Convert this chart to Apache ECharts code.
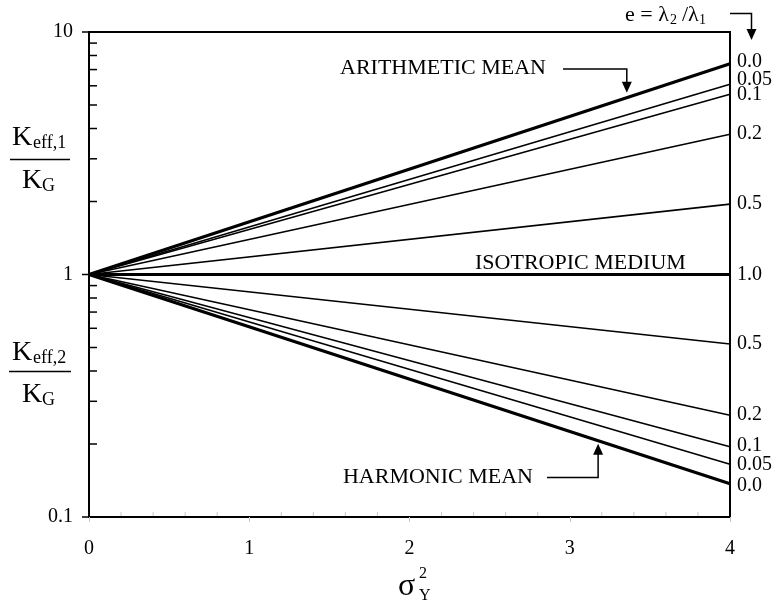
<!DOCTYPE html>
<html>
<head>
<meta charset="utf-8">
<script src="https://cdn.jsdelivr.net/npm/echarts@6/dist/echarts.min.js"></script>
<style>
  html, body { margin: 0; padding: 0; background: #fff; }
  #chart { width: 775px; height: 605px; }
</style>
</head>
<body>
<div id="chart"></div>
<script>
// Variance of log-conductivity (x) and normalised effective conductivity (y, log scale)
const sigmaStart = 0;
const sigmaEnd = 4;

// Anisotropy ratio e = lambda2/lambda1 and end values at sigma_Y^2 = 4
const eUpper = ['0.0', '0.05', '0.1', '0.2', '0.5', '1.0'];
const keffUpperEnd = [7.39, 6.09, 5.54, 3.79, 1.95, 1.0];
const eLower = ['0.0', '0.05', '0.1', '0.2', '0.5'];
const keffLowerEnd = [0.137, 0.165, 0.195, 0.263, 0.517];

// Tick values
const xTickValues = [0, 1, 2, 3, 4];
const yTickValues = [0.1, 1, 10];
const yMinorTicks = [0.2, 0.3, 0.4, 0.5, 0.6, 0.7, 0.8, 0.9, 2, 3, 4, 5, 6, 7, 8, 9];
const xMinorTicks = [0.2, 0.4, 0.6, 0.8, 1.2, 1.4, 1.6, 1.8, 2.2, 2.4, 2.6, 2.8, 3.2, 3.4, 3.6, 3.8];

const SERIF = 'Liberation Serif';
const FONT = s => s + 'px "Liberation Serif", serif';

// Curves drawn heavier, and small vertical nudges for crowded end labels
const boldCurves = ['0.0', '1.0'];
const upperLabelNudge = { '0.0': -2, '0.05': -4, '0.1': 1 };
const lowerLabelNudge = { '0.0': 2, '0.1': -1 };

function lineSeries(label, endValue, nudge) {
  const bold = boldCurves.includes(label);
  return {
    type: 'line',
    name: label,
    data: [[sigmaStart, 1], [sigmaEnd, endValue]],
    symbol: 'none',
    silent: true,
    lineStyle: { color: '#000', width: bold ? 3.2 : 1.6 },
    endLabel: {
      show: true,
      formatter: () => label,
      fontFamily: SERIF,
      fontSize: 20,
      color: '#000',
      distance: 7,
      offset: [0, nudge || 0]
    },
    labelLayout: { hideOverlap: false },
    z: bold ? 4 : 3
  };
}

const series = [];
eUpper.forEach((e, i) => series.push(lineSeries(e, keffUpperEnd[i], upperLabelNudge[e])));
eLower.forEach((e, i) => series.push(lineSeries(e, keffLowerEnd[i], lowerLabelNudge[e])));

const chart = echarts.init(document.getElementById('chart'), null, { renderer: 'canvas' });

chart.setOption({
  animation: false,
  backgroundColor: '#fff',
  grid: {
    left: 89, right: 45, top: 32, bottom: 88,
    show: true, borderColor: '#000', borderWidth: 2, backgroundColor: 'transparent'
  },
  xAxis: {
    type: 'value',
    min: xTickValues[0],
    max: xTickValues[xTickValues.length - 1],
    interval: 1,
    axisLine: { show: true, onZero: false, lineStyle: { color: '#000', width: 2 } },
    axisTick: { show: true, length: 5, lineStyle: { color: '#c8c8c8', width: 1 } },
    axisLabel: { fontFamily: SERIF, fontSize: 20, color: '#000', margin: 22 },
    splitLine: { show: false },
    minorTick: { show: false }
  },
  yAxis: {
    type: 'log',
    logBase: 10,
    min: yTickValues[0],
    max: yTickValues[yTickValues.length - 1],
    axisLine: { show: true, onZero: false, lineStyle: { color: '#000', width: 2 } },
    axisTick: { show: false },
    axisLabel: {
      fontFamily: SERIF, fontSize: 20, color: '#000', margin: 16,
      formatter: v => {
        const match = yTickValues.find(t => Math.abs(t - v) / t < 1e-6);
        return match !== undefined ? String(match) : '';
      }
    },
    splitLine: { show: false },
    minorTick: { show: false }
  },
  series: series
});

// Annotations: axis titles, tick marks, curve captions and arrows
function txt(text, x, y, size, align) {
  return {
    type: 'text',
    silent: true,
    style: {
      text: text, x: x, y: y,
      font: FONT(size),
      fill: '#000',
      textAlign: align || 'left',
      textVerticalAlign: 'middle'
    },
    z: 10
  };
}
function seg(points, width, color) {
  return {
    type: 'polyline', silent: true,
    shape: { points: points },
    style: { stroke: color || '#000', lineWidth: width || 1.5, fill: null },
    z: 10
  };
}
function head(tipX, tipY, dir) {
  // dir = 1 points down, -1 points up
  const h = 11, w = 5;
  return {
    type: 'polygon', silent: true,
    shape: { points: [[tipX, tipY], [tipX - w, tipY - dir * h], [tipX + w, tipY - dir * h]] },
    style: { fill: '#000', stroke: null },
    z: 10
  };
}
const px = (x, y) => chart.convertToPixel({ gridIndex: 0 }, [x, y]);

const graphic = [];

// Log-axis ticks: majors outward, minors inward
yTickValues.forEach(v => {
  const p = px(0, v);
  graphic.push(seg([[p[0] - 7, p[1]], [p[0], p[1]]], 1.5));
});
yMinorTicks.forEach(v => {
  const p = px(0, v);
  graphic.push(seg([[p[0] + 1, p[1]], [p[0] + 8, p[1]]], 1.5));
});
// Light minor ticks along the x axis, inward
xMinorTicks.forEach(v => {
  const p = px(v, yTickValues[0]);
  graphic.push(seg([[p[0], p[1] - 1], [p[0], p[1] - 5]], 1, '#c8c8c8'));
});

const amSigma = 3.356;
const amPix = px(amSigma, Math.pow(keffUpperEnd[0], amSigma / sigmaEnd));
const hmSigma = 3.177;
const hmPix = px(hmSigma, Math.pow(keffLowerEnd[0], hmSigma / sigmaEnd));
const rightEdge = px(sigmaEnd, 1)[0];
const amTipY = amPix[1] - 5;
const hmTipY = hmPix[1] + 3;

graphic.push(
  // K_eff,1 / K_G
  txt('K', 12, 137.5, 28),
  txt('eff,1', 33, 143, 18),
  { type: 'line', silent: true, shape: { x1: 10, y1: 159.5, x2: 70, y2: 159.5 }, style: { stroke: '#000', lineWidth: 1.5 } },
  txt('K', 22, 180.5, 28),
  txt('G', 42, 186, 18),
  // K_eff,2 / K_G
  txt('K', 12, 352.5, 28),
  txt('eff,2', 33, 358, 18),
  { type: 'line', silent: true, shape: { x1: 9, y1: 371.5, x2: 71, y2: 371.5 }, style: { stroke: '#000', lineWidth: 1.5 } },
  txt('K', 22, 394.5, 28),
  txt('G', 42, 400, 18),
  // sigma_Y^2
  txt('σ', 398, 587, 32),
  txt('2', 419, 574, 16),
  txt('Y', 419, 596, 16),
  // e = lambda2 / lambda1
  txt('e = λ', 625, 15, 22),
  txt('2', 670, 20, 14),
  txt('/λ', 682, 15, 22),
  txt('1', 699, 20, 14),
  seg([[rightEdge, 13.5], [751.5, 13.5], [751.5, 30]]),
  head(751.5, 40, 1),
  // Captions
  txt('ARITHMETIC MEAN', 340, 68, 22),
  seg([[563, 69], [amPix[0], 69], [amPix[0], amTipY - 10]]),
  head(amPix[0], amTipY, 1),
  txt('ISOTROPIC MEDIUM', 475, 263, 22),
  txt('HARMONIC MEAN', 533, 477.5, 22, 'right'),
  seg([[547, 477.5], [hmPix[0], 477.5], [hmPix[0], hmTipY + 10]]),
  head(hmPix[0], hmTipY, -1)
);

chart.setOption({ graphic: graphic });
</script>
</body>
</html>
